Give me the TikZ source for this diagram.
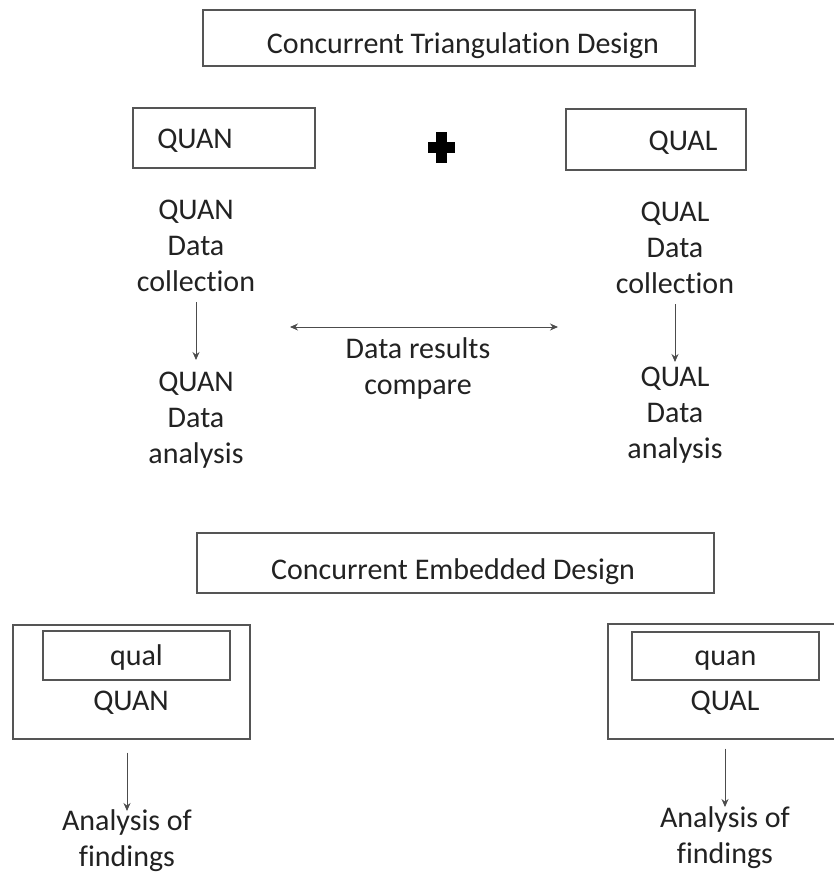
\documentclass[tikz,border=0pt]{standalone}
\usepackage{fontspec}
\setmainfont{Carlito}[Ligatures=NoCommon]
\usetikzlibrary{arrows.meta}
\definecolor{boxline}{HTML}{555555}
\definecolor{inktext}{HTML}{222222}
\tikzset{
  box/.style={draw=boxline, line width=1.3pt, inner sep=0pt},
  txt/.style={font=\fontsize{30}{36}\selectfont, text=inktext, inner sep=0pt, align=center},
  arr/.style={draw=black!70, line width=0.9pt, -{Stealth[length=8pt,width=7pt]}},
  dblarr/.style={draw=black!70, line width=0.9pt, {Stealth[length=8pt,width=7pt]}-{Stealth[length=8pt,width=7pt]}},
}
\begin{document}
\begin{tikzpicture}[x=1pt, y=-1pt]
      \path[use as bounding box, fill=white] (0,0) rectangle (834,875);

      % Draw the boxes of the triangulation design
      \node[box, minimum width=492pt, minimum height=56pt] (ctdbox) at (449,38) {};
      \node[box, minimum width=182pt, minimum height=60pt] (quanbox) at (224,138) {};
      \node[box, minimum width=180pt, minimum height=61pt] (qualbox) at (656,139.5) {};

      % Label the triangulation boxes
      \node[txt, anchor=base] (ctd) at (463,53) {Concurrent Triangulation Design};
      \node[txt, anchor=base] (quan) at (195,148) {QUAN};
      \node[txt, anchor=base] (qual) at (683,150) {QUAL};

      % Draw the plus sign
      \def\plusarm{13.5}
      \def\plusbar{5.5}
      \fill[black] (441.5-\plusarm,147.5-\plusbar) rectangle (441.5+\plusarm,147.5+\plusbar);
      \fill[black] (441.5-\plusbar,147.5-15.5) rectangle (441.5+\plusbar,147.5+15.5);

      % Label the data steps
      \node[txt, anchor=north] (quancoll) at (196,200) {QUAN\\Data\\collection};
      \node[txt, anchor=north] (quanana) at (196,372) {QUAN\\Data\\analysis};
      \node[txt, anchor=north] (qualcoll) at (675,202) {QUAL\\Data\\collection};
      \node[txt, anchor=north] (qualana) at (675,367) {QUAL\\Data\\analysis};
      \node[txt, anchor=north] (compare) at (418,337) {Data results\\compare};

      % Draw the arrows between the steps
      \draw[arr, shorten <=10pt, shorten >=12pt] (quancoll.south) -- (quancoll.south |- quanana.north);
      \draw[arr, shorten <=10pt, shorten >=5pt] (qualcoll.south) -- (qualcoll.south |- qualana.north);
      \coordinate (cmpl) at (290,327);
      \coordinate (cmpr) at (558,327);
      \draw[dblarr] (cmpl) -- (cmpr);

      % Draw the boxes of the embedded design
      \node[box, minimum width=517pt, minimum height=60pt] (cedbox) at (455.5,563) {};
      \node[box, minimum width=237pt, minimum height=114pt] (leftouter) at (131.5,682) {};
      \node[box, minimum width=187pt, minimum height=49pt] (leftinner) at (136.5,655.5) {};
      \node[box, minimum width=252pt, minimum height=115pt] (rightouter) at (734,681.5) {};
      \node[box, minimum width=187pt, minimum height=48pt] (rightinner) at (725.5,656) {};

      % Label the embedded boxes
      \node[txt, anchor=base] (ced) at (453,579) {Concurrent Embedded Design};
      \node[txt, anchor=base] (qualsmall) at (136.5,665) {qual};
      \node[txt, anchor=base] (quanbig) at (131,710) {QUAN};
      \node[txt, anchor=base] (quansmall) at (725.5,665) {quan};
      \node[txt, anchor=base] (qualbig) at (725,710) {QUAL};

      % Label the findings
      \node[txt, anchor=north] (findl) at (127,809) {Analysis of\\findings};
      \node[txt, anchor=north] (findr) at (725,806) {Analysis of\\findings};

      % Draw the arrows to the findings
      \draw[arr, shorten <=13pt, shorten >=-2pt] (findl.north |- leftouter.south) -- (findl.north);
      \draw[arr, shorten <=9pt, shorten >=-1pt] (findr.north |- rightouter.south) -- (findr.north);
  \end{tikzpicture}
\end{document}
